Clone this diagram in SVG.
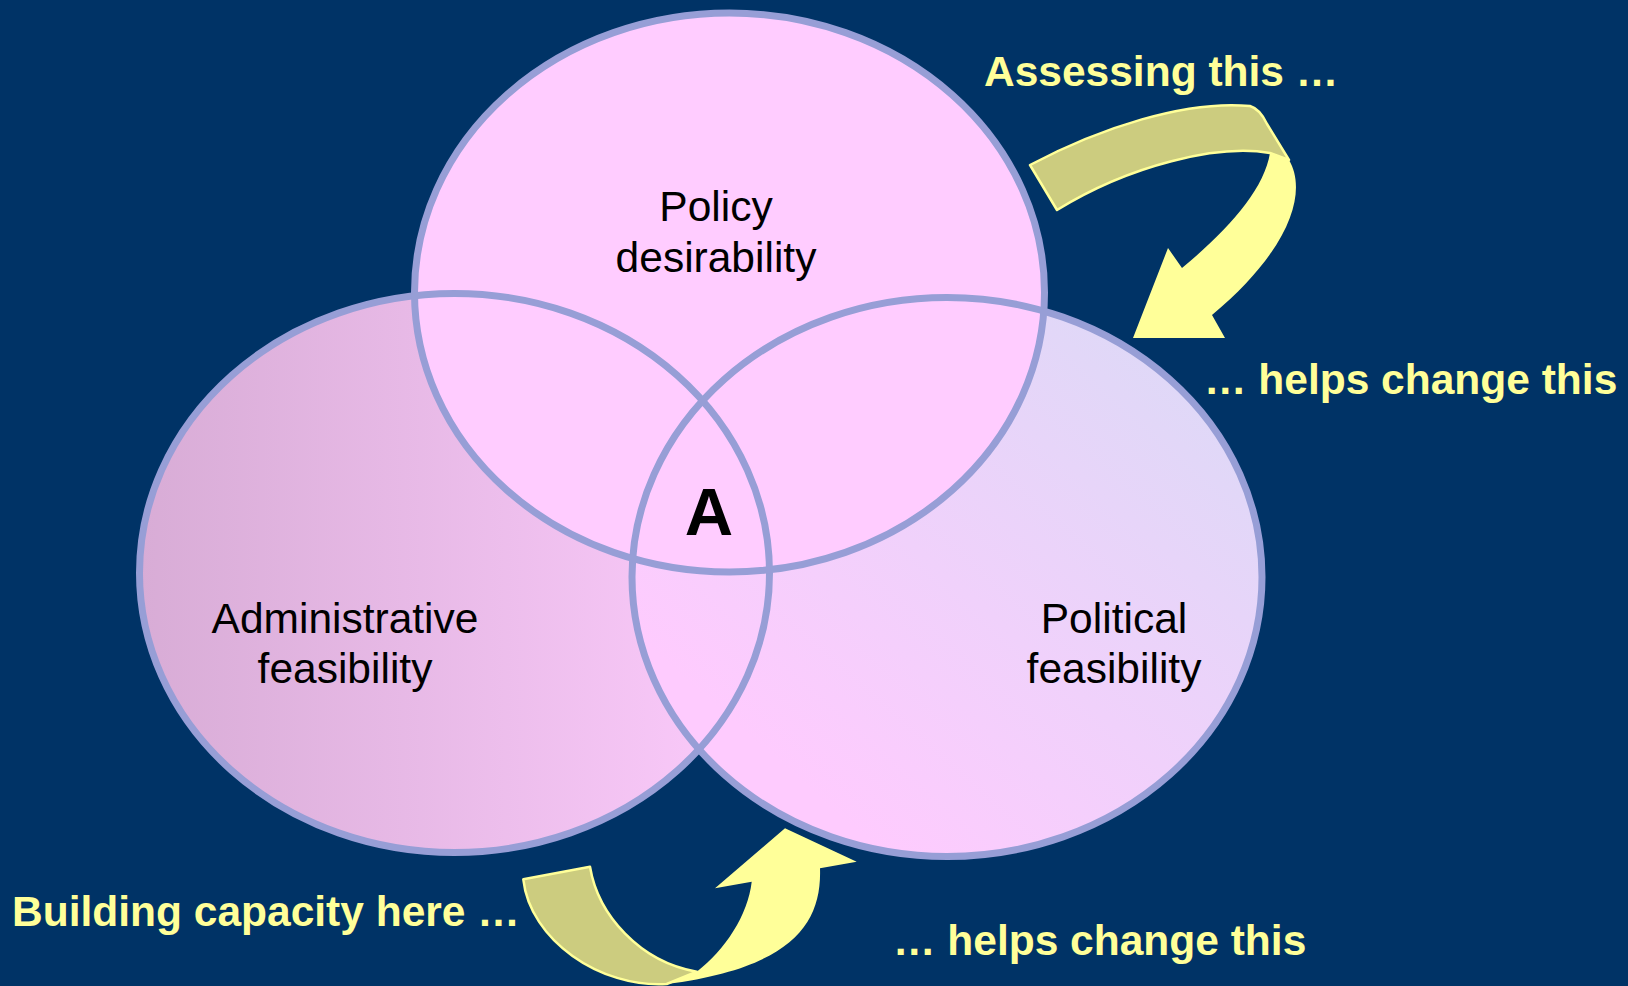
<svg xmlns="http://www.w3.org/2000/svg" width="1628" height="986" viewBox="0 0 1628 986">
  <defs>
    <linearGradient id="gLeft" x1="0" y1="0" x2="1" y2="0">
      <stop offset="0" stop-color="#d8acd6"/>
      <stop offset="1" stop-color="#fccbfc"/>
    </linearGradient>
    <linearGradient id="gRight" x1="0" y1="1" x2="1" y2="0">
      <stop offset="0.2" stop-color="#fecbfe"/>
      <stop offset="1" stop-color="#d9dbf6"/>
    </linearGradient>
    <style>
      .lbl { font-family: "Liberation Sans", Arial, sans-serif; font-size: 42.5px; fill: #000; text-anchor: middle; }
      .note { font-family: "Liberation Sans", Arial, sans-serif; font-size: 42.5px; font-weight: bold; fill: #ffff99; }
      .ring { fill: none; stroke: #979ed6; stroke-width: 7; }
      .back { fill: #cccc7f; stroke: #ffff99; stroke-width: 2.5; stroke-linejoin: round; }
      .front { fill: #ffff99; }
    </style>
  </defs>
  <rect width="1628" height="986" fill="#003366"/>

  <g id="admin-feasibility">
    <ellipse cx="454.5" cy="573" rx="315" ry="279.5" fill="url(#gLeft)"/>
    <text class="lbl" x="345" y="633">Administrative</text>
    <text class="lbl" x="345" y="683">feasibility</text>
  </g>
  <g id="political-feasibility">
    <ellipse cx="947" cy="577" rx="315" ry="279.5" fill="url(#gRight)"/>
    <text class="lbl" x="1114" y="633">Political</text>
    <text class="lbl" x="1114" y="683">feasibility</text>
  </g>
  <g id="policy-desirability">
    <ellipse cx="729.5" cy="292.5" rx="315" ry="279.5" fill="#ffccff"/>
    <text class="lbl" x="716" y="221">Policy</text>
    <text class="lbl" x="716" y="272">desirability</text>
  </g>
  <g id="outlines">
    <ellipse class="ring" cx="454.5" cy="573" rx="315" ry="279.5"/>
    <ellipse class="ring" cx="947" cy="577" rx="315" ry="279.5"/>
    <ellipse class="ring" cx="729.5" cy="292.5" rx="315" ry="279.5"/>
  </g>
  <g id="intersection-A">
    <text x="709" y="535" font-family="Liberation Sans, Arial, sans-serif" font-size="67" font-weight="bold" text-anchor="middle" fill="#000">A</text>
  </g>

  <g id="connectors">
    <g id="arrow-top">
      <path class="back" d="M1030,165 C1100,128 1185,100 1250,106 Q1260,109 1267,124 L1289,160 L1270,153 C1218,144 1130,165 1057,210 Z"/>
      <path class="front" d="M1270,153 L1289,160 C1308,192 1290,250 1212,315 L1225,338 L1133,338 L1168,248 L1182,268 C1228,230 1264,190 1270,153 Z"/>
    </g>
    <g id="arrow-bottom">
      <path class="back" d="M523.3,879.3 L590,866.7 C598,915 640,962 696.7,971.7 L666.7,984 C600,988 530,940 523.3,879.3 Z"/>
      <path class="front" d="M696.7,971.7 C725,950 748,915 751.7,881.7 L715,888.3 L785,828.3 L856.7,861.7 L820,868.3 C822,925 790,968 666.7,984 Z"/>
    </g>
  </g>

  <g id="notes">
    <text class="note" x="984" y="86">Assessing this …</text>
    <text class="note" x="1204" y="394">… helps change this</text>
    <text class="note" x="12" y="926">Building capacity here …</text>
    <text class="note" x="893" y="955">… helps change this</text>
  </g>
</svg>
